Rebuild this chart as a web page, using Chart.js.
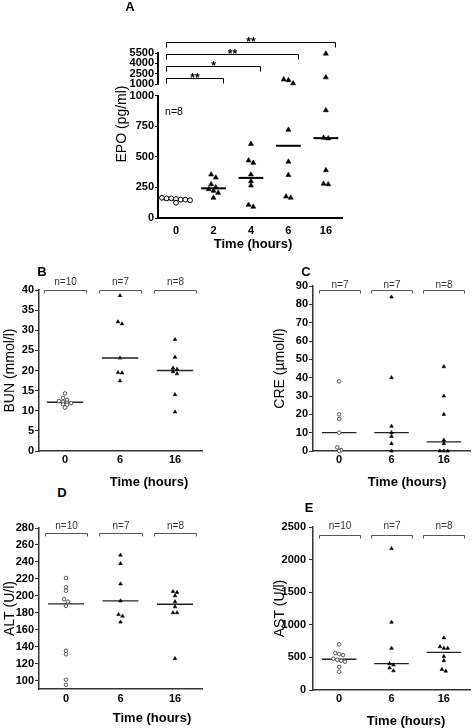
<!DOCTYPE html>
<html>
<head>
<meta charset="utf-8">
<script src="https://cdn.jsdelivr.net/npm/chart.js@4.4.1/dist/chart.umd.min.js"></script>
<style>
  html, body { margin: 0; padding: 0; background: #fff; }
  body { width: 475px; height: 728px; position: relative; overflow: hidden; font-family: "Liberation Sans", Arial, sans-serif; }
  canvas { position: absolute; }
  .lbl { position: absolute; white-space: nowrap; color: #000; line-height: 1; transform: translate(-50%, -50%); }
  .letter { font-weight: bold; font-size: 13px; }
  .xt { font-weight: bold; font-size: 13px; }
  .yt { font-size: 14px; transform: translate(-50%, -50%) rotate(-90deg); }
  .n { font-size: 10.5px; }
</style>
</head>
<body>
<canvas id="epoHigh" width="240" height="92" style="left:110px;top:0px"></canvas>
<canvas id="epoLow" width="240" height="152" style="left:110px;top:88px"></canvas>
<canvas id="bun" width="215" height="203" style="left:0px;top:272px"></canvas>
<canvas id="cre" width="205" height="203" style="left:270px;top:272px"></canvas>
<canvas id="alt" width="215" height="200" style="left:0px;top:510px"></canvas>
<canvas id="ast" width="205" height="200" style="left:270px;top:510px"></canvas>

<div class="lbl letter" style="left:130px;top:6px">A</div>
<div class="lbl letter" style="left:42px;top:271px">B</div>
<div class="lbl letter" style="left:306px;top:271px">C</div>
<div class="lbl letter" style="left:62px;top:492px">D</div>
<div class="lbl letter" style="left:309px;top:507px">E</div>

<div class="lbl yt" style="left:121px;top:124px">EPO (pg/ml)</div>
<div class="lbl n" style="left:174px;top:111px">n=8</div>

<div class="lbl xt" style="left:253px;top:243px">Time (hours)</div>
<div class="lbl xt" style="left:149px;top:481px">Time (hours)</div>
<div class="lbl xt" style="left:407px;top:481px">Time (hours)</div>
<div class="lbl xt" style="left:152px;top:717px">Time (hours)</div>
<div class="lbl xt" style="left:406px;top:720px">Time (hours)</div>

<script>
const FONT = '"Liberation Sans", Arial, sans-serif';
Chart.defaults.font.family = FONT;

// --- Panel A: EPO (pg/ml) ---
const epoTimes = ['0', '2', '4', '6', '16'];
const epo0 = [160, 150, 165, 155, 125, 150, 160, 145];
const epo2 = [355, 330, 275, 250, 235, 222, 205, 165];
const epo4 = [605, 470, 450, 355, 300, 265, 92, 108];
const epo6 = [1700, 1150, 1600, 720, 460, 350, 165, 175];
const epo16 = [5400, 2000, 880, 655, 650, 390, 275, 280];
const epoTicksLow = [0, 250, 500, 750, 1000];
const epoTicksHigh = [1000, 2500, 4000, 5500];
const epoStars = ['**', '*', '**', '**'];

// --- Panels B-E ---
const organTimes = ['0', '6', '16'];

const bun0 = [14.3, 13.2, 12.7, 12.4, 12.2, 12.0, 11.9, 11.6, 11.5, 10.8];
const bun6 = [38.6, 32.1, 31.6, 23.1, 19.5, 19.4, 17.4];
const bun16 = [27.7, 23.3, 20.6, 20.3, 19.7, 19.2, 14.0, 9.7];
const bunTicks = [0, 5, 10, 15, 20, 25, 30, 35, 40];
const bunN = ['n=10', 'n=7', 'n=8'];

const cre0 = [38, 20, 17.5, 10, 2, 0.5, 0];
const cre6 = [84, 40, 13.5, 10, 8, 4, 0];
const cre16 = [46, 30, 20, 6, 4, 0, 0, 0];
const creTicks = [0, 10, 20, 30, 40, 50, 60, 70, 80, 90];
const creN = ['n=7', 'n=7', 'n=8'];

const alt0 = [221, 210, 206, 196, 193, 188, 135, 131, 101, 95];
const alt6 = [248, 238, 214, 194, 178, 176, 169];
const alt16 = [205, 204, 200, 193, 187, 180, 180, 126];
const altTicks = [100, 120, 140, 160, 180, 200, 220, 240, 260, 280];
const altN = ['n=10', 'n=7', 'n=8'];

const ast0 = [700, 565, 550, 535, 480, 465, 450, 435, 355, 280];
const ast6 = [2170, 1040, 640, 405, 385, 340, 295];
const ast16 = [800, 665, 640, 640, 515, 450, 315, 290];
const astTicks = [0, 500, 1000, 1500, 2000, 2500];
const astN = ['n=10', 'n=7', 'n=8'];

function median(arr) {
    const s = [...arr].sort((a, b) => a - b);
    const m = Math.floor(s.length / 2);
    return s.length % 2 ? s[m] : (s[m - 1] + s[m]) / 2;
}

// dot-plot style spread: values closer than thr share a row, rows are centred on the category
function swarm(values, idx, thr, step) {
    const order = values.map((v, i) => i).sort((a, b) => values[b] - values[a]);
    const pts = [];
    let row = [];
    const flush = () => {
        row.forEach((i, j) => pts.push({ x: idx + (j - (row.length - 1) / 2) * step, y: values[i] }));
        row = [];
    };
    order.forEach(i => {
        if (row.length && values[row[0]] - values[i] >= thr) flush();
        row.push(i);
    });
    flush();
    return pts;
}

function buildDatasets(groups, o) {
    const ds = [];
    groups.forEach((vals, i) => {
        const shown = vals.filter(v => v >= o.lo && v <= o.hi);
        const open = i === 0;
        ds.push({
            data: swarm(shown, i, o.thr, o.step),
            pointStyle: open ? 'circle' : 'triangle',
            pointRadius: open ? o.rCircle : o.rTri,
            pointBackgroundColor: open ? '#fff' : '#000',
            pointBorderColor: open ? o.circleColor : '#000',
            pointBorderWidth: open ? 1 : 0.6,
            clip: false,
            order: 0
        });
        if (o.medians) {
            const m = median(vals);
            ds.push({
                data: [{ x: i - 0.33, y: m }, { x: i + 0.33, y: m }],
                showLine: true,
                borderColor: o.lineColor,
                borderWidth: o.lineWidth,
                pointRadius: 0,
                clip: false,
                order: 1
            });
        }
    });
    return ds;
}

function bracketPlugin(b) {
    return {
        id: 'brackets',
        afterDatasetsDraw(chart) {
            const { ctx, chartArea, scales } = chart;
            const x = scales.x;
            ctx.save();
            ctx.strokeStyle = b.color;
            ctx.fillStyle = b.textColor;
            ctx.lineWidth = 1;
            ctx.font = b.font;
            ctx.textAlign = 'center';
            ctx.textBaseline = 'alphabetic';
            b.items.forEach((it, i) => {
                const x1 = Math.round(x.getPixelForValue(it.from)) + 0.5;
                const x2 = Math.round(x.getPixelForValue(it.to)) + 0.5;
                const lv = b.level(i);
                const y = Math.round(b.fromBottom ? chartArea.bottom - lv : chartArea.top + lv) + 0.5;
                ctx.beginPath();
                ctx.moveTo(x1, y + b.tick);
                ctx.lineTo(x1, y);
                ctx.lineTo(x2, y);
                ctx.lineTo(x2, y + b.tick);
                ctx.stroke();
                ctx.fillText(it.text, (x1 + x2) / 2, y - b.gap);
            });
            ctx.restore();
        }
    };
}

function makeChart(id, o) {
    return new Chart(document.getElementById(id), {
        type: 'scatter',
        data: { datasets: o.datasets },
        plugins: o.brackets ? [bracketPlugin(o.brackets)] : [],
        options: {
            responsive: false,
            animation: false,
            events: [],
            layout: { padding: o.padding },
            plugins: { legend: { display: false }, tooltip: { enabled: false } },
            scales: {
                x: {
                    type: 'linear',
                    min: o.xMin,
                    max: o.xMax,
                    display: o.showX !== false,
                    afterFit: s => { s.height = o.xH; },
                    afterBuildTicks: s => { s.ticks = o.xLabels.map((t, i) => ({ value: i })); },
                    grid: { display: false, drawTicks: false },
                    border: { display: true, color: o.axisColor, width: o.axisWidth },
                    ticks: {
                        padding: o.xPad, color: '#000', autoSkip: false, maxRotation: 0,
                        font: { size: 11, weight: 'bold' },
                        callback: (v, i) => o.xLabels[i]
                    }
                },
                y: {
                    type: 'linear',
                    min: o.yMin,
                    max: o.yMax,
                    afterFit: s => { s.width = o.yW; },
                    afterBuildTicks: s => { s.ticks = o.yTicks.map(v => ({ value: v })); },
                    grid: { drawOnChartArea: false, drawTicks: true, tickLength: o.tickLen, color: o.axisColor, lineWidth: 1 },
                    border: { display: true, color: o.axisColor, width: o.axisWidth },
                    ticks: {
                        padding: o.yPad, color: '#000', autoSkip: false,
                        font: { size: 11, weight: 'bold' },
                        callback: v => String(v)
                    },
                    title: o.yTitle
                        ? { display: true, text: o.yTitle, color: '#000', font: { size: 14 }, padding: { top: 2, bottom: 0 } }
                        : { display: false }
                }
            }
        }
    });
}

// Panel A: broken axis -> two stacked charts
const epoGroups = [epo0, epo2, epo4, epo6, epo16];
const epoBase = {
    xMin: -0.48, xMax: 4.43, xLabels: epoTimes, yW: 48,
    axisColor: '#000', axisWidth: 2, tickLen: 3, yPad: 1
};
const epoStyle = { step: 0.125, rCircle: 2.4, rTri: 2.9, circleColor: '#000', lineColor: '#000', lineWidth: 2 };

makeChart('epoLow', Object.assign({}, epoBase, {
    padding: { top: 7, right: 8, bottom: 0, left: 0 },
    xH: 22, xPad: 6,
    yMin: 0, yMax: 1000, yTicks: epoTicksLow,
    datasets: buildDatasets(epoGroups, Object.assign({ lo: 0, hi: 1000, thr: 32, medians: true }, epoStyle))
}));

makeChart('epoHigh', Object.assign({}, epoBase, {
    padding: { top: 53, right: 8, bottom: 7, left: 0 },
    showX: false, xH: 0, xPad: 0,
    yMin: 1000, yMax: 5500, yTicks: epoTicksHigh,
    datasets: buildDatasets(epoGroups, Object.assign({ lo: 1001, hi: 5500, thr: 560, medians: false }, epoStyle)),
    brackets: {
        items: epoStars.map((s, i) => ({ from: -0.27, to: i + 1.25, text: s })),
        level: i => 6 + i * 12.3, fromBottom: true, tick: 5, gap: -3,
        color: '#000', textColor: '#000', font: 'bold 12px ' + FONT
    }
}));

// Panels B-E
const organStyle = { rCircle: 1.8, rTri: 2.1, circleColor: '#555', lineColor: '#222', lineWidth: 1.4, medians: true };
const organBase = { xLabels: organTimes, axisColor: '#333', axisWidth: 1.5, tickLen: 4, yPad: 1 };

function nBrackets(labels, level, gap) {
    return {
        items: labels.map((n, i) => ({ from: i - 0.39, to: i + 0.39, text: n })),
        level: () => level, fromBottom: false, tick: 3, gap: gap,
        color: '#555', textColor: '#333', font: '10px ' + FONT
    };
}

makeChart('bun', Object.assign({}, organBase, {
    padding: { top: 18, right: 13, bottom: 0, left: 0 },
    xMin: -0.473, xMax: 2.491, xH: 24, xPad: 2, yW: 39,
    yMin: 0, yMax: 40, yTicks: bunTicks, yTitle: 'BUN (mmol/l)',
    datasets: buildDatasets([bun0, bun6, bun16], Object.assign({ lo: 0, hi: 40, thr: 0.75, step: 0.073 }, organStyle)),
    brackets: nBrackets(bunN, 0, 5.5)
}));

makeChart('cre', Object.assign({}, organBase, {
    padding: { top: 14, right: 0, bottom: 0, left: 0 },
    xMin: -0.5, xMax: 2.5, xH: 24, xPad: 2, yW: 43,
    yMin: 0, yMax: 90, yTicks: creTicks, yTitle: 'CRE (µmol/l)',
    datasets: buildDatasets([cre0, cre6, cre16], Object.assign({ lo: 0, hi: 90, thr: 1.64, step: 0.074 }, organStyle)),
    brackets: nBrackets(creN, 4, 2.5)
}));

makeChart('alt', Object.assign({}, organBase, {
    padding: { top: 18, right: 13, bottom: 0, left: 0 },
    xMin: -0.495, xMax: 2.495, xH: 21, xPad: 3, yW: 39,
    yMin: 90, yMax: 280, yTicks: altTicks, yTitle: 'ALT (U/l)',
    datasets: buildDatasets([alt0, alt6, alt16], Object.assign({ lo: 90, hi: 280, thr: 3.5, step: 0.073 }, organStyle)),
    brackets: nBrackets(altN, 5, 5)
}));

makeChart('ast', Object.assign({}, organBase, {
    padding: { top: 17, right: 0, bottom: 0, left: 0 },
    xMin: -0.5, xMax: 2.5, xH: 20, xPad: 2, yW: 43, yPad: 3,
    yMin: 0, yMax: 2500, yTicks: astTicks, yTitle: 'AST (U/l)',
    datasets: buildDatasets([ast0, ast6, ast16], Object.assign({ lo: 0, hi: 2500, thr: 46, step: 0.074 }, organStyle)),
    brackets: nBrackets(astN, 8, 7)
}));
</script>
</body>
</html>
